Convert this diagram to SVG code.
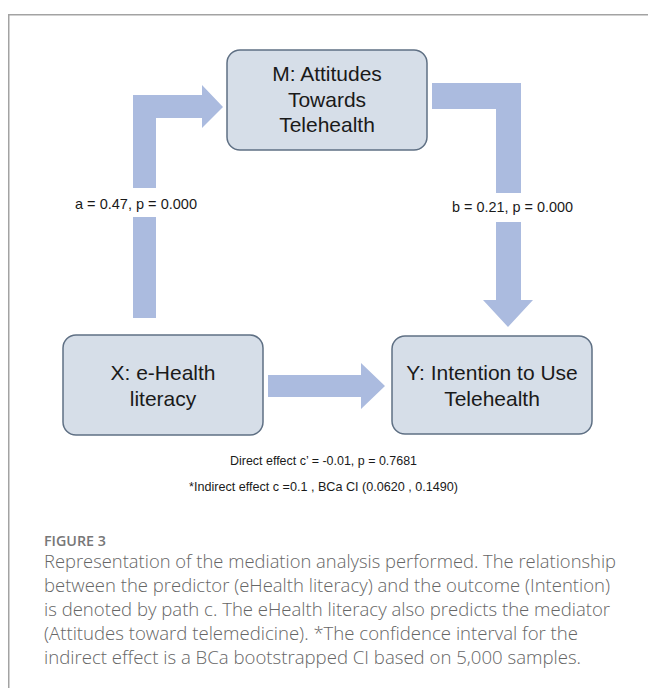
<svg xmlns="http://www.w3.org/2000/svg" width="648" height="688" viewBox="0 0 648 688">
<defs>
<style>
.box{fill:#d6dee8;stroke:#5f7084;stroke-width:1.5}
.arr{fill:#abbbdf}
.nt{font-family:"Liberation Sans",Arial,sans-serif;font-size:21px;fill:#1a1a1a;text-anchor:middle}
.lb{font-family:"Liberation Sans",Arial,sans-serif;font-size:15px;fill:#1a1a1a;text-anchor:middle}
.ft{font-family:"Liberation Sans",Arial,sans-serif;font-size:13.5px;fill:#1a1a1a;text-anchor:middle}
.cap{font-family:"Open Sans","Liberation Sans",sans-serif;font-size:18px;fill:#666666;font-weight:300}
.fig{font-family:"Open Sans","Liberation Sans",sans-serif;font-size:14px;fill:#777777;font-weight:600}
</style>
</defs>
<rect width="648" height="688" fill="#ffffff"/>
<path d="M8.75 688 V14.75 H648" fill="none" stroke="#a3a3a3" stroke-width="1.5"/>
<g id="connectors">
<polygon class="arr" points="133,188 133,95 202,95 202,85 223,107 202,128 202,118 156,118 156,188"/>
<rect class="arr" x="133" y="217" width="23" height="101"/>
<polygon class="arr" points="432,83 521,83 521,193 496,193 496,109 432,109"/>
<polygon class="arr" points="496,222 521,222 521,300 533,300 508,327 483,300 496,300"/>
<polygon class="arr" points="268,375 361,375 361,363 385,386 361,409 361,397 268,397"/>
<text class="lb" x="136" y="209" textLength="122" lengthAdjust="spacingAndGlyphs">a = 0.47, p = 0.000</text>
<text class="lb" x="512.5" y="212" textLength="121" lengthAdjust="spacingAndGlyphs">b = 0.21, p = 0.000</text>
</g>
<g id="node-M">
<rect class="box" x="227" y="50" width="200" height="100" rx="13"/>
<text class="nt" x="327" y="81">M: Attitudes</text>
<text class="nt" x="327" y="106.5">Towards</text>
<text class="nt" x="327" y="132">Telehealth</text>
</g>
<g id="node-X">
<rect class="box" x="63" y="335" width="200" height="100" rx="13"/>
<text class="nt" x="163" y="380">X: e-Health</text>
<text class="nt" x="163" y="405.5">literacy</text>
</g>
<g id="node-Y">
<rect class="box" x="392" y="336" width="200" height="98" rx="13"/>
<text class="nt" x="492" y="380">Y: Intention to Use</text>
<text class="nt" x="492" y="405.5">Telehealth</text>
</g>
<g id="notes">
<text class="ft" x="323.5" y="465" textLength="187" lengthAdjust="spacingAndGlyphs">Direct effect c’ = -0.01, p = 0.7681</text>
<text class="ft" x="323.5" y="491" textLength="269" lengthAdjust="spacingAndGlyphs">*Indirect effect c =0.1 ,  BCa CI (0.0620 , 0.1490)</text>
</g>
<g id="caption">
<text class="fig" x="44" y="546" textLength="62" lengthAdjust="spacingAndGlyphs">FIGURE 3</text>
<text class="cap" x="44" y="568" textLength="572" lengthAdjust="spacingAndGlyphs">Representation of the mediation analysis performed. The relationship</text>
<text class="cap" x="44" y="592" textLength="566" lengthAdjust="spacingAndGlyphs">between the predictor (eHealth literacy) and the outcome (Intention)</text>
<text class="cap" x="44" y="616" textLength="566" lengthAdjust="spacingAndGlyphs">is denoted by path c. The eHealth literacy also predicts the mediator</text>
<text class="cap" x="44" y="640" textLength="534" lengthAdjust="spacingAndGlyphs">(Attitudes toward telemedicine). *The confidence interval for the</text>
<text class="cap" x="44" y="664" textLength="537" lengthAdjust="spacingAndGlyphs">indirect effect is a BCa bootstrapped CI based on 5,000 samples.</text>
</g>
</svg>
